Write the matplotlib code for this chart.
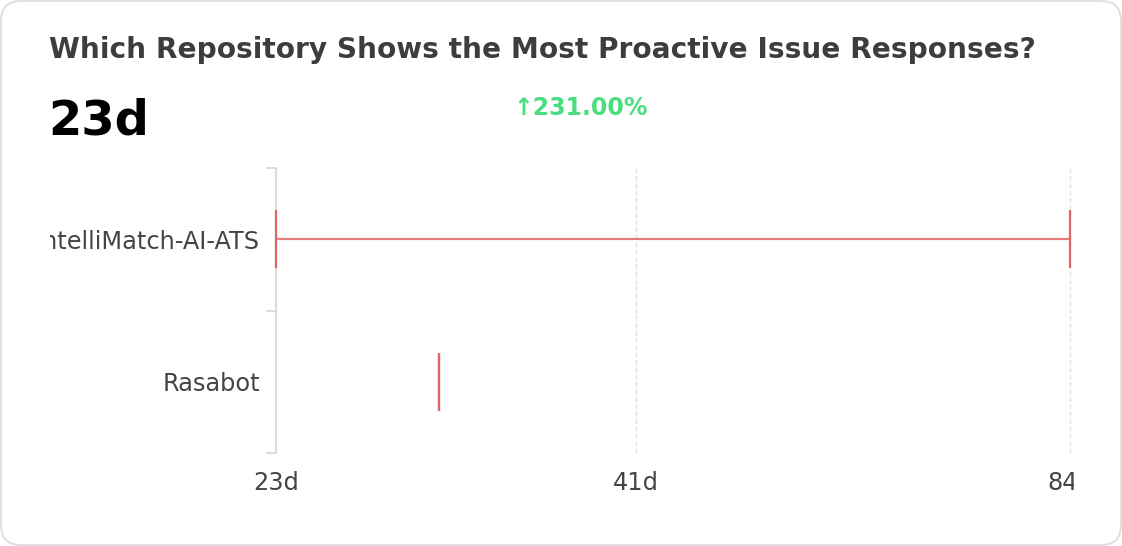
import matplotlib
matplotlib.use('Agg')
import matplotlib.pyplot as plt
from matplotlib.patches import FancyBboxPatch
from matplotlib.ticker import NullLocator, FixedLocator
from matplotlib.transforms import Bbox, TransformedBbox

# data
repos = ['IntelliMatch-AI-ATS', 'Rasabot']
low_days = [22.6, 29.6]
high_days = [84.0, 29.6]
x_tick_values = [22.6, 41, 84]
x_tick_labels = ['23d', '41d', '84d']
headline = '23d'
change_text = '\u2191231.00%'
title = 'Which Repository Shows the Most Proactive Issue Responses?'

red = '#e06666'
grey_text = '#444444'
light = '#d9d9d9'

fig = plt.figure(figsize=(11.22, 5.46), dpi=100, facecolor='white')

# card outline
card = FancyBboxPatch((0.01, 0.01), 11.2, 5.44, boxstyle='round,pad=0,rounding_size=0.2',
                      transform=fig.dpi_scale_trans, facecolor='white', edgecolor='#dddddd',
                      linewidth=1.3, zorder=-5)
fig.patches.append(card)

fig.text(49 / 1122, 1 - 50 / 546, title, fontsize=20.15, fontweight='bold', color='#3d3d3d',
         va='center', ha='left')
fig.text(48 / 1122, 1 - 121 / 546, headline, fontsize=34.5, fontweight='bold', color='black',
         va='center', ha='left')
fig.text(581 / 1122, 1 - 108 / 546, change_text, fontsize=17, fontweight='bold', color='#4ade80',
         va='center', ha='center')

ax = fig.add_axes([276 / 1122, 93 / 546, (1070 - 276) / 1122, (453 - 168) / 546])
ax.patch.set_alpha(0)
ax.set_xscale('log')
ax.set_xlim(x_tick_values[0], x_tick_values[-1])
ypos = list(range(len(repos)))
ax.set_ylim(len(repos) - 0.5, -0.5)

ax.hlines(ypos, low_days, high_days, color=red, alpha=0.85, linewidth=1.6, zorder=3)
ax.plot(low_days, ypos, linestyle='none', marker='|', markersize=42, markeredgewidth=1.6,
        color=red, zorder=4, clip_on=False)
ax.plot(high_days, ypos, linestyle='none', marker='|', markersize=42, markeredgewidth=1.6,
        color=red, zorder=4, clip_on=False)

# x axis
ax.xaxis.set_major_locator(FixedLocator(x_tick_values))
ax.xaxis.set_minor_locator(NullLocator())
ax.set_xticklabels(x_tick_labels)
ax.tick_params(axis='x', length=0, pad=13, labelsize=17.3, labelcolor=grey_text)
ax.grid(axis='x', color='#e3e3e3', linestyle='--', linewidth=1)
ax.set_axisbelow(True)
for gl in ax.get_xgridlines():
    gl.set_clip_on(False)

# y axis: ticks at band edges, labels at centres
ax.set_yticks([p - 0.5 for p in ypos] + [len(repos) - 0.5])
ax.set_yticklabels([])
ax.set_yticks(ypos, minor=True)
ax.set_yticklabels(repos, minor=True)
ax.tick_params(axis='y', which='major', length=7, width=1.3, color=light)
ax.tick_params(axis='y', which='minor', length=0, pad=11.5, labelsize=17.3, labelcolor=grey_text)

for s in ['top', 'right', 'bottom']:
    ax.spines[s].set_visible(False)
ax.spines['left'].set_color(light)
ax.spines['left'].set_linewidth(1.3)

# card padding clips labels
clip = TransformedBbox(Bbox([[50 / 1122, 0], [1074 / 1122, 1]]), fig.transFigure)
for lab in ax.get_xticklabels() + ax.get_yticklabels(minor=True):
    lab.set_clip_on(True)
    lab.set_clip_box(clip)

fig.savefig('out.png', dpi=100, facecolor='white')
